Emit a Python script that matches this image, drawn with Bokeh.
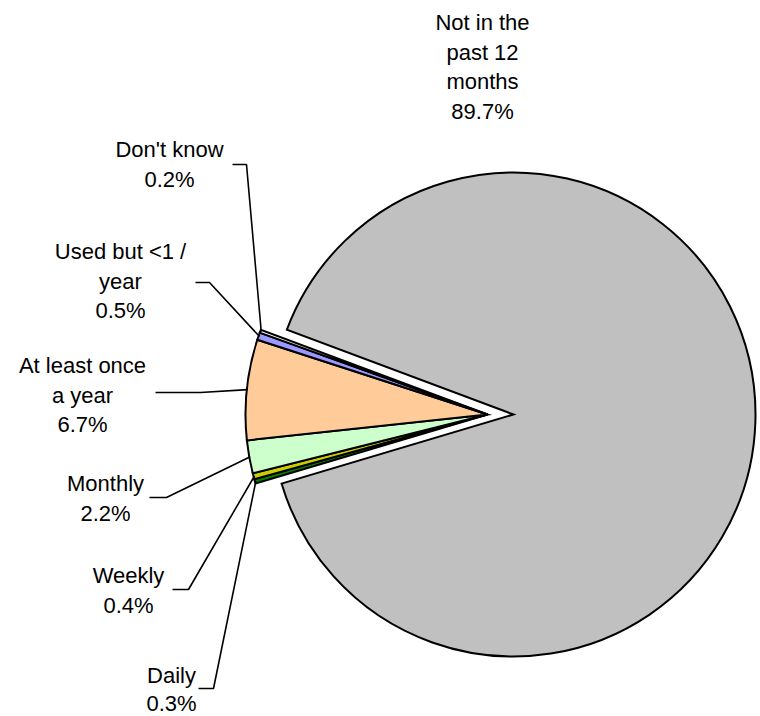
import math
from bokeh.plotting import figure
from bokeh.models import Range1d
from bokeh.core.properties import value
from bokeh.embed import file_html
from bokeh.resources import INLINE

# ---- data (clockwise order of slices) ----
categories = ["Not in the past 12 months", "Daily", "Weekly", "Monthly",
              "At least once a year", "Used but <1 / year", "Don't know"]
percents = [89.7, 0.3, 0.4, 2.2, 6.7, 0.5, 0.2]
colors = ["#C0C0C0", "#008000", "#CCCC00", "#CCFFCC", "#FFCC99", "#9999FF", "#FFFFFF"]

# wrapped label lines per category
label_lines = {
    "Not in the past 12 months": ["Not in the", "past 12", "months"],
    "Daily": ["Daily"],
    "Weekly": ["Weekly"],
    "Monthly": ["Monthly"],
    "At least once a year": ["At least once", "a year"],
    "Used but <1 / year": ["Used but <1 /", "year"],
    "Don't know": ["Don't know"],
}

# ---- layout (page pixel coords; y measured downward) ----
W, H = 760, 716
START_DEG = 159.5          # math angle where first slice begins (clockwise)
R = 242
CX_BIG, CX_SMALL, CY = 513, 487, 414
LINE_H = 29.5
FONT = "22px"

# label center (x, y of first line) and leader (start, elbow) per category
label_pos = {
    "Not in the past 12 months": (482, 22),
    "Daily": (171, 675),
    "Weekly": (128, 575),
    "Monthly": (105, 483),
    "At least once a year": (82, 365),
    "Used but <1 / year": (120, 251),
    "Don't know": (169, 149),
}
line_h = {"Daily": 28}
leader = {
    "Daily": ((198, 688), (213, 688)),
    "Weekly": ((172, 589), (188, 589)),
    "Monthly": ((149, 497), (166, 497)),
    "At least once a year": ((155, 392), (200, 392)),
    "Used but <1 / year": ((195, 282), (209, 282)),
    "Don't know": ((232, 164), (246, 164)),
}

def Y(py):
    return H - py

p = figure(width=W, height=H, output_backend="svg", toolbar_location=None,
           x_range=Range1d(0, W), y_range=Range1d(0, H), min_border=0)
p.axis.visible = False
p.grid.visible = False
p.outline_line_color = None
p.background_fill_color = "white"
p.border_fill_color = "white"

total = sum(percents)
theta = START_DEG
for cat, pct, col in zip(categories, percents, colors):
    span = pct / total * 360.0
    end = theta
    start = theta - span
    cx = CX_BIG if cat == categories[0] else CX_SMALL
    p.wedge(x=cx, y=Y(CY), radius=R, start_angle=start, end_angle=end,
            start_angle_units="deg", end_angle_units="deg",
            fill_color=col, line_color="black", line_width=2, line_join="miter")
    mid = math.radians((start + end) / 2.0)
    if cat in leader:
        (sx, sy), (ex, ey) = leader[cat]
        px = cx + (R - 1) * math.cos(mid)
        py = Y(CY) + (R - 1) * math.sin(mid)
        p.line(x=[sx, ex, px], y=[Y(sy), Y(ey), py], line_color="black", line_width=1.6)
    lx, ly = label_pos[cat]
    lh = line_h.get(cat, LINE_H)
    lines = label_lines[cat] + [f"{pct:.1f}%"]
    for i, t in enumerate(lines):
        p.text(x=[lx], y=[Y(ly + i * lh)], text=[t], text_align="center",
               text_baseline="middle", text_font=value("Liberation Sans"),
               text_font_size=FONT, text_color="black")
    theta = start

open("out.html", "w").write(file_html(p, INLINE))
